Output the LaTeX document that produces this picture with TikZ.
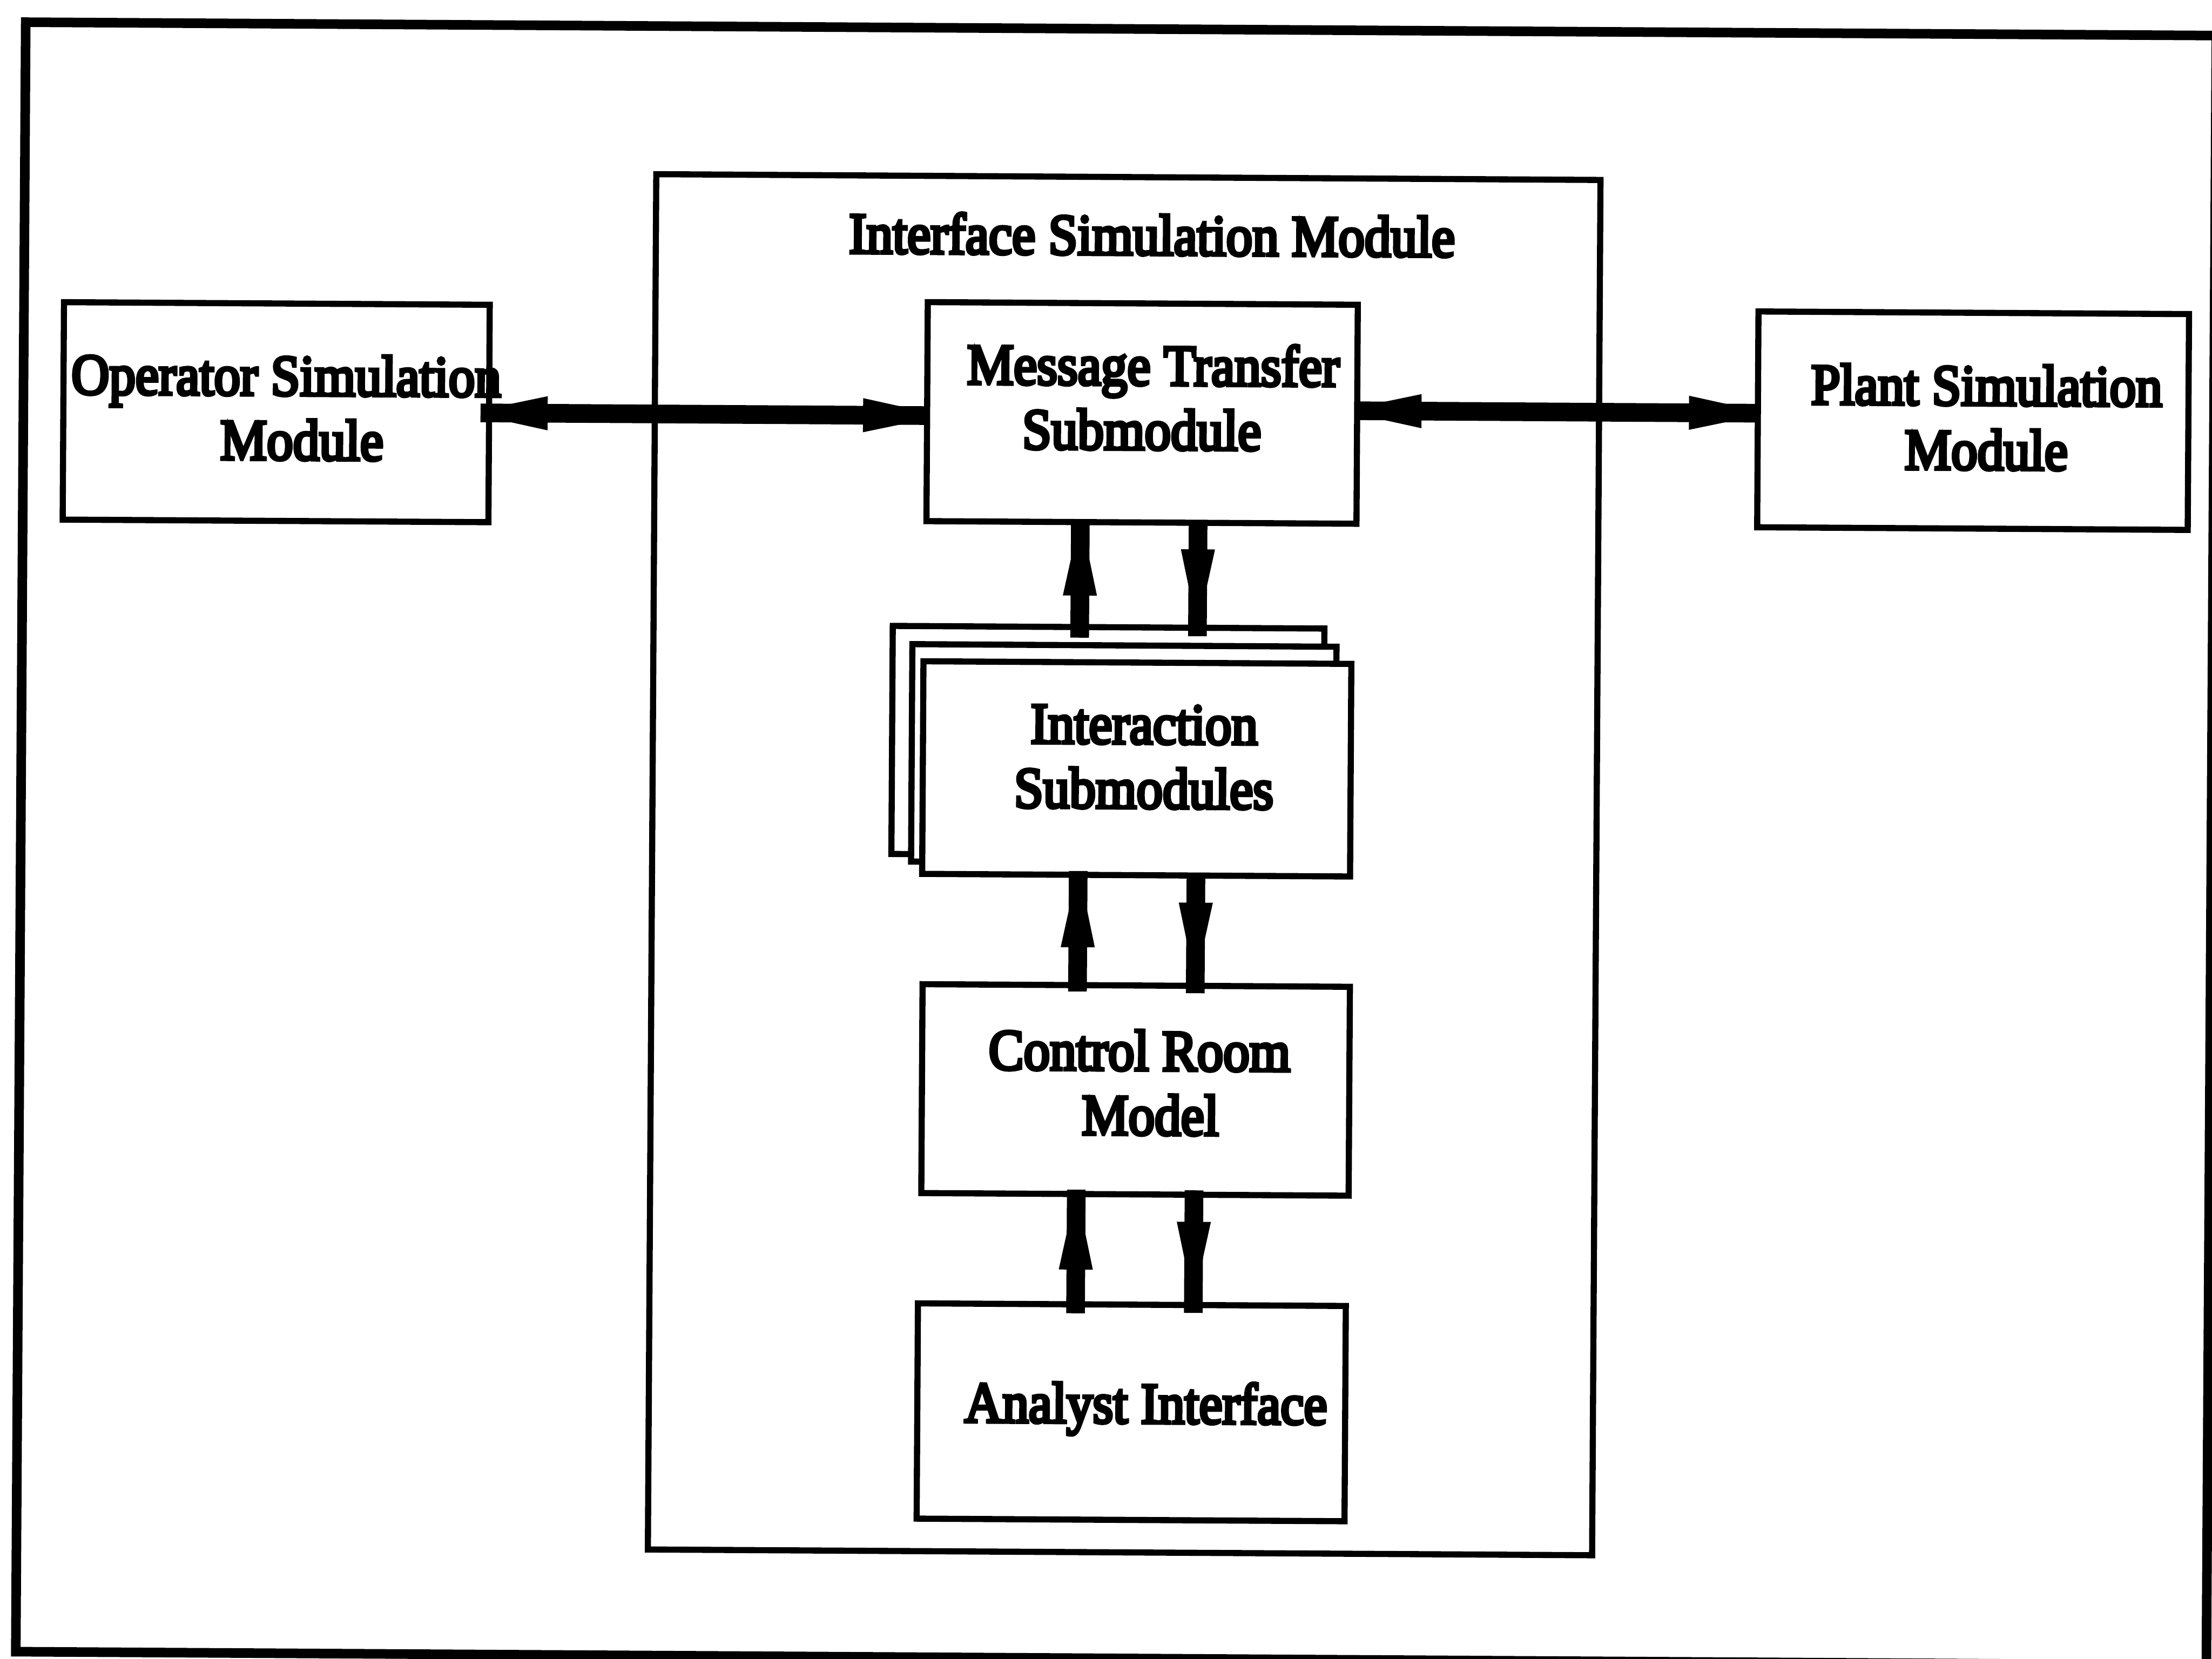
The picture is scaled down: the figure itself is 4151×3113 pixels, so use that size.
\documentclass[tikz,border=0pt]{standalone}
\usepackage{fontspec}
\usepackage{graphicx}
\usetikzlibrary{calc,decorations.markings}
\newfontfamily\lblfont{Liberation Serif}[FakeBold=6]
% labels: slightly tall serif text, one or more centred lines, baseline = first line
\newcommand\lbl[1]{\scalebox{1}[1.1]{\begin{tabular}[t]{@{}c@{}}#1\end{tabular}}}
\tikzset{
  module/.style={draw, fill=white, line width=1.15mm, inner sep=0pt, outer sep=0pt},
  labeltext/.style={font=\lblfont\fontsize{28}{31.3}\selectfont, inner sep=0pt, outer sep=0pt, anchor=base},
  shaft/.style={line width=3.5mm, line cap=butt},
  fwdhead/.style={postaction={decorate, decoration={markings,
      mark=at position #1 with {\fill (0mm,3.2mm) -- (7mm,1.7mm) -- (7mm,-1.7mm) -- (0mm,-3.2mm) -- cycle;}}}},
  bwdhead/.style={postaction={decorate, decoration={markings,
      mark=at position #1 with {\fill (0mm,3.2mm) -- (-7mm,1.7mm) -- (-7mm,-1.7mm) -- (0mm,-3.2mm) -- cycle;}}}},
}
\begin{document}
\begin{tikzpicture}[x=0.1mm, y=-0.1mm]
\useasboundingbox (0,0) rectangle (4151,3113);
\clip (0,0) rectangle (4151,3113);
\fill[white] (0,0) rectangle (4151,3113);
\begin{scope}[rotate around={-0.35:(2075,1556)}, transform shape]
  % outer frame
  \draw[line width=1.8mm] (39,54) -- (4150,54) -- (4150,3112) -- (39,3112) -- cycle;

  % modules
  \node[module, minimum width=177.2mm, minimum height=258.1mm] (ism) at (2110,1622.5) {};
  \node[module, minimum width=79.9mm, minimum height=40.8mm] (op) at (513.5,783) {};
  \node[module, minimum width=80.7mm, minimum height=41.1mm] (mt) at (2138.5,774.5) {};
  \node[module, minimum width=80.8mm, minimum height=40.5mm] (pl) at (3698,779.5) {};
  % stacked interaction submodules
  \node[module, minimum width=81.0mm, minimum height=42.8mm] (iab) at (2078,1391) {};
  \node[module, minimum width=79.6mm, minimum height=40.8mm] (iam) at (2108,1415) {};
  \node[module, minimum width=80.3mm, minimum height=39.9mm] (ia) at (2132.5,1442.5) {};
  \node[module, minimum width=80.2mm, minimum height=39.2mm] (crm) at (2134,2045) {};
  \node[module, minimum width=80.3mm, minimum height=40.4mm] (an) at (2129.5,2650) {};

  % labels
  \node[labeltext] (ismL) at (2155,477.5) {\lbl{Interface Simulation Module}};
  \node[labeltext] (opL) at (532,751) {\lbl{Operator Simulation\\\hspace*{6mm}Module}};
  \node[labeltext] (mtL) at (2159,722) {\lbl{Message Transfer\\Submodule\hspace*{4.2mm}}};
  \node[labeltext] (plL) at (3723,750) {\lbl{Plant Simulation\\Module}};
  \node[labeltext] (iaL) at (2146,1395) {\lbl{Interaction\\Submodules}};
  \node[labeltext] (crmL) at (2141,2008) {\lbl{Control Room\\\hspace*{4.2mm}Model}};
  \node[labeltext] (anL) at (2157,2670) {\lbl{Analyst Interface}};

  % guide coordinates for the connector lanes
  \coordinate (upx) at (2024,1720);
  \coordinate (dnx) at (2245,1720);
  \coordinate (ly) at (1300,782);
  \coordinate (ry) at (2900,768);

  % horizontal two-way links
  \draw[shaft, bwdhead=12.6mm, fwdhead=-12mm]
    ($(op.east |- ly)!-1.6mm!(mt.west |- ly)$) -- (mt.west |- ly);
  \draw[shaft, bwdhead=12.1mm, fwdhead=-12.9mm]
    (mt.east |- ry) -- (pl.west |- ry);

  % message transfer <-> interaction submodules
  \draw[shaft, fwdhead=7.9mm]
    ($(iab.north -| upx)!-2mm!(mt.south -| upx)$) -- ($(mt.south -| upx)!-0.5mm!(iab.north -| upx)$);
  \draw[shaft, fwdhead=5.5mm]
    ($(mt.south -| dnx)!-0.5mm!(iab.north -| dnx)$) -- ($(iab.north -| dnx)!-1.6mm!(mt.south -| dnx)$);

  % interaction submodules <-> control room model
  \draw[shaft, fwdhead=8.3mm]
    ($(crm.north -| upx)!-1.2mm!(ia.south -| upx)$) -- ($(ia.south -| upx)!-0.7mm!(crm.north -| upx)$);
  \draw[shaft, fwdhead=5.4mm]
    ($(ia.south -| dnx)!-0.3mm!(crm.north -| dnx)$) -- ($(crm.north -| dnx)!-1.4mm!(ia.south -| dnx)$);

  % control room model <-> analyst interface
  \draw[shaft, fwdhead=8.2mm]
    ($(an.north -| upx)!-1.7mm!(crm.south -| upx)$) -- ($(crm.south -| upx)!-0.8mm!(an.north -| upx)$);
  \draw[shaft, fwdhead=5.9mm]
    ($(crm.south -| dnx)!-0.8mm!(an.north -| dnx)$) -- ($(an.north -| dnx)!-1.5mm!(crm.south -| dnx)$);
\end{scope}
\end{tikzpicture}
\end{document}
